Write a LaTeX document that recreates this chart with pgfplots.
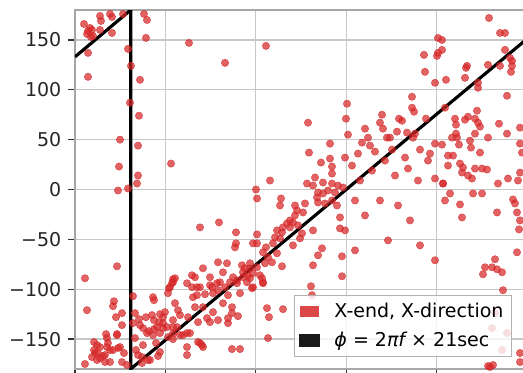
\documentclass[border=0pt]{standalone}
\usepackage{fontspec}
\setmainfont{DejaVu Sans}
\usepackage{pgfplots}
\pgfplotsset{compat=1.18}
\definecolor{ptred}{RGB}{214,39,40}
\begin{document}
\fontsize{11.4}{13.7}\selectfont
\begin{tikzpicture}
\begin{axis}[
  at={(0,0)}, anchor=south west,
  scale only axis, width=271.2pt, height=215.4pt,
  xmin=75, xmax=527, ymin=-180, ymax=180,
  xtick={75,165.4,255.8,346.2,436.6,527}, xticklabels={},
  ytick={-150,-100,-50,0,50,100,150},
  yticklabels={−150,−100,−50,0,50,100,150},
  tick pos=left, tick align=outside, major tick length=4.2pt,
  tick style={color=black!80, line width=0.8pt},
  grid=major, grid style={color=black!22, line width=0.8pt},
  axis line style={color=black!35, line width=0.8pt},
  ticklabel style={font=\fontsize{11.4}{13.7}\selectfont, text=black!85},
  legend cell align=left,
  legend style={at={(0.967,0.033)}, anchor=south east, draw=black!30, fill=white, fill opacity=0.8, text opacity=1,
    font=\fontsize{11.4}{13.7}\selectfont, inner xsep=3pt, inner ysep=2.5pt, row sep=3pt},
]
\addplot[only marks, mark=*, mark size=2.2pt, mark options={fill=ptred, draw=ptred, fill opacity=0.72, draw opacity=0.72, line width=0.3pt},
  legend image code/.code={\fill[ptred!85, opacity=1, fill opacity=1] (0pt,-3pt) rectangle (10.8pt,3pt); \path (17.4pt,0pt);}]
coordinates {
(84,166)(90,162)(88,159)(92,160)(87,156)(93,154)(91,153)(100,174)(101,169)(100,160)(110,176)(112,173)(112,157)(123,176)(144,176)(147,170)(146,152)(88,137)(128,141)(131,124)(88,113)(140,110)(130,87)(139,74)(120,50)(138,44)(119,23)(171,26)(138,14)(137,6)(118,-1)(128,1)
(189,147)(266,144)(225,127)
(117,-77)(85,-89)(87,-121)(133,-107)(114,-112)(113,-117)(153,-108)(154,-111)(173,-90)(172,-94)(169,-99)(168,-104)(116,-128)(122,-124)(122,-136)(117,-145)(135,-124)(133,-134)(140,-136)(139,-130)(146,-128)(152,-126)(154,-131)(160,-125)(163,-128)(159,-133)(157,-138)(154,-140)(149,-142)(163,-139)(167,-138)(160,-144)(168,-148)(143,-139)(147,-144)(173,-131)(177,-138)(94,-153)(97,-156)(106,-145)(107,-149)(108,-154)(107,-158)(110,-161)(94,-161)(98,-164)(92,-168)(97,-171)(100,-169)(103,-167)(105,-173)(85,-175)(118,-159)(124,-164)(122,-173)(127,-176)(135,-149)(136,-161)(143,-156)(142,-168)(148,-171)(156,-154)(158,-167)
(100,-158)(95,-164)(105,-166)(117,-146)(113,-161)(120,-158)(110,-173)(138,-166)(150,-171)(142,-174)(153,-146)(173,-144)(183,-146)(187,-158)(187,-166)(200,-154)(203,-158)(232,-160)(240,-160)(268,-149)(488,-177)(493,-176)
(173,-93)(187,-94)(197,-98)(210,-96)(217,-94)(225,-98)(237,-94)(247,-93)(253,-98)(263,-94)(193,-108)(205,-105)(213,-104)(228,-106)(240,-104)(252,-99)(175,-114)(178,-121)(180,-126)(195,-118)(203,-118)(213,-123)(223,-114)(232,-118)(232,-124)(238,-127)(165,-123)(163,-134)(173,-138)(188,-128)(198,-133)(207,-129)(210,-133)(218,-131)(228,-129)(228,-134)(187,-144)(180,-146)(190,-144)(173,-150)(198,-153)(202,-156)(267,-119)(269,-128)(283,-120)(160,-163)
(256,0)(257,-9)(270,9)(309,37)(321,27)(330,31)(332,23)(345,32)(315,12)(307,6)(313,4)(323,7)(332,16)(332,6)(318,-3)(323,-4)(328,-1)(335,-3)(338,4)(343,2)(281,-9)(280,-16)(295,-16)(305,-14)(297,-21)(295,-26)(303,-23)(317,-8)(318,-13)(325,-14)(337,-16)(332,-11)(290,-31)(287,-34)(293,-33)(283,-38)(290,-38)(298,-36)(277,-41)(282,-43)(275,-48)(280,-49)(302,-44)(300,-49)(313,-41)(340,-28)(340,-39)(200,-38)(219,-33)(236,-43)(257,-45)(236,-54)(235,-58)(253,-54)(257,-54)(266,-58)(273,-54)(277,-64)(293,-56)(263,-63)(268,-68)(282,-77)(272,-73)(265,-74)(242,-76)(250,-74)(245,-79)(243,-83)(250,-79)(257,-78)(253,-84)(248,-86)(260,-86)(262,-89)(263,-93)(250,-89)(243,-88)(218,-73)(227,-74)(203,-79)(192,-86)(195,-88)(210,-88)(223,-83)(233,-88)(237,-91)(230,-93)(220,-93)(200,-98)(212,-98)(218,-101)(197,-106)(175,-89)(170,-98)(192,-98)(313,-76)(322,-59)(318,-66)(342,-67)(342,-87)(311,-97)(312,-106)
(489,172)(500,157)(505,157)(438,152)(442,150)(442,140)(437,134)(438,137)(424,135)(505,140)(510,132)(512,129)(512,124)(500,124)(488,125)(467,124)(466,122)(511,118)(425,118)(435,107)(446,110)(465,112)(478,107)(478,102)(507,94)(412,93)(347,86)(412,82)(414,78)(346,71)(382,75)(380,67)(383,61)(399,71)(402,69)(426,71)(445,82)(455,71)(456,65)(465,70)(468,73)(477,79)(475,71)(478,67)(480,63)(499,66)(507,56)(365,61)(368,52)(370,44)(362,47)(348,55)(330,46)(308,67)(387,52)(390,52)(397,58)(407,57)(415,56)(413,52)(435,46)(442,45)(452,52)(456,56)(457,52)(459,45)(470,49)(471,42)(475,56)(488,52)
(520,62)(520,46)(448,34)(453,34)(460,26)(463,22)(448,24)(462,17)(468,14)(472,11)(480,37)(475,21)(482,21)(487,20)(443,6)(450,-4)(445,-11)(498,6)(508,11)(518,9)(520,17)(522,37)(460,-15)(473,-4)(482,-4)(462,-28)(497,-23)(513,-10)(515,-14)(517,-23)(520,-31)(519,-40)(517,-63)(495,-70)(492,-78)(485,-78)(497,-80)(502,-83)(483,-85)(503,-101)(495,-124)(492,-139)(507,-144)(502,-161)(520,-164)(520,-173)(490,-178)
(352,24)(360,9)(372,19)(385,29)(395,14)(408,21)(418,9)(428,29)(435,11)(355,-11)(365,-26)(380,-11)(398,-16)(410,-31)(388,-51)(420,-56)(355,-61)(345,-41)(435,-71)(443,6)(358,36)(375,38)(392,40)(420,40)(430,36)(405,32)
};
\addlegendentry{X-end, X-direction}
\addplot[black, line width=1.9pt,
  legend image code/.code={\fill[black!90, opacity=1, fill opacity=1] (0pt,-3pt) rectangle (10.8pt,3pt); \path (17.4pt,0pt);}]
coordinates {(75,133)(130.7,180)(130.7,-180)(527,151)};
\addlegendentry{{\itshape ϕ} = 2{\itshape πf} × 21sec}
\end{axis}
\pgfresetboundingbox
\useasboundingbox (-45pt,-1.8pt) rectangle (268.8pt,221.4pt);
\end{tikzpicture}
\end{document}
